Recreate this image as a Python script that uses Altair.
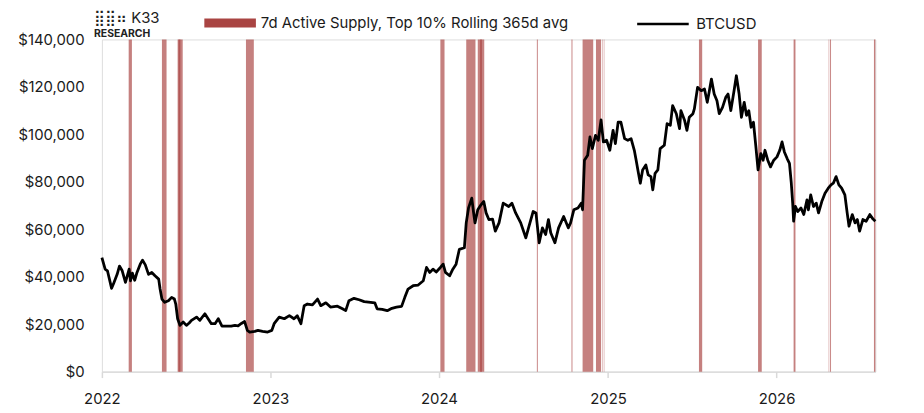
import altair as alt
import pandas as pd

# ---------------- data ----------------
price_dates = [
    "2022-01-01", "2022-01-08", "2022-01-13", "2022-01-22", "2022-01-27", "2022-02-03", "2022-02-08",
    "2022-02-14", "2022-02-21", "2022-03-01", "2022-03-04", "2022-03-08", "2022-03-13", "2022-03-18",
    "2022-03-25", "2022-03-30", "2022-04-05", "2022-04-12", "2022-04-19", "2022-04-26", "2022-05-04",
    "2022-05-07", "2022-05-11", "2022-05-17", "2022-05-25", "2022-06-01", "2022-06-07", "2022-06-10",
    "2022-06-14", "2022-06-19", "2022-06-26", "2022-07-03", "2022-07-09", "2022-07-14", "2022-07-25",
    "2022-08-01", "2022-08-12", "2022-08-19", "2022-08-26", "2022-09-03", "2022-09-10", "2022-09-18",
    "2022-09-27", "2022-10-08", "2022-10-16", "2022-10-23", "2022-10-30", "2022-11-06", "2022-11-12",
    "2022-11-17", "2022-11-28", "2022-12-05", "2022-12-15", "2022-12-26",
    "2023-01-04", "2023-01-09", "2023-01-20", "2023-01-31", "2023-02-11", "2023-02-21", "2023-02-28",
    "2023-03-08", "2023-03-15", "2023-03-22", "2023-04-02", "2023-04-13", "2023-04-20", "2023-05-01",
    "2023-05-11", "2023-05-26", "2023-06-06", "2023-06-13", "2023-06-20", "2023-07-01", "2023-07-12",
    "2023-07-23", "2023-08-06", "2023-08-15", "2023-08-20", "2023-08-31", "2023-09-11", "2023-09-21",
    "2023-10-01", "2023-10-12", "2023-10-19", "2023-10-26", "2023-11-06", "2023-11-17", "2023-11-28",
    "2023-12-05", "2023-12-12", "2023-12-19", "2023-12-26",
    "2024-01-04", "2024-01-10", "2024-01-15", "2024-01-24", "2024-01-31", "2024-02-07", "2024-02-14",
    "2024-02-25", "2024-02-29", "2024-03-05", "2024-03-12", "2024-03-16", "2024-03-19", "2024-03-25",
    "2024-04-01", "2024-04-07", "2024-04-12", "2024-04-18", "2024-04-26", "2024-05-02", "2024-05-10",
    "2024-05-19", "2024-05-31", "2024-06-07", "2024-06-15", "2024-06-26", "2024-07-07", "2024-07-14",
    "2024-07-23", "2024-07-29", "2024-08-05", "2024-08-12", "2024-08-19", "2024-08-25", "2024-08-30",
    "2024-09-08", "2024-09-16", "2024-09-27", "2024-10-07", "2024-10-12", "2024-10-19", "2024-10-28",
    "2024-11-04", "2024-11-07", "2024-11-11", "2024-11-18", "2024-11-23", "2024-11-28", "2024-12-05",
    "2024-12-11", "2024-12-17", "2024-12-22", "2024-12-29",
    "2025-01-05", "2025-01-12", "2025-01-17", "2025-01-23", "2025-01-29", "2025-02-06", "2025-02-13",
    "2025-02-20", "2025-02-27", "2025-03-03", "2025-03-08", "2025-03-12", "2025-03-17", "2025-03-24",
    "2025-03-29", "2025-04-04", "2025-04-08", "2025-04-13", "2025-04-19", "2025-04-24", "2025-05-03",
    "2025-05-09", "2025-05-16", "2025-05-21", "2025-05-29", "2025-06-05", "2025-06-08", "2025-06-16",
    "2025-06-21", "2025-06-26", "2025-07-04", "2025-07-07", "2025-07-14", "2025-07-22", "2025-07-29",
    "2025-08-04", "2025-08-08", "2025-08-13", "2025-08-19", "2025-08-25", "2025-08-30", "2025-09-06",
    "2025-09-13", "2025-09-18", "2025-09-24", "2025-10-01", "2025-10-06", "2025-10-12", "2025-10-17",
    "2025-10-23", "2025-10-28", "2025-11-02", "2025-11-07", "2025-11-12", "2025-11-17", "2025-11-22",
    "2025-11-28", "2025-12-03", "2025-12-07", "2025-12-13", "2025-12-19", "2025-12-26",
    "2026-01-02", "2026-01-08", "2026-01-13", "2026-01-18", "2026-01-24", "2026-01-29", "2026-02-02",
    "2026-02-05", "2026-02-07", "2026-02-11", "2026-02-16", "2026-02-23", "2026-03-01", "2026-03-08",
    "2026-03-11", "2026-03-16", "2026-03-22", "2026-03-28", "2026-04-02", "2026-04-09", "2026-04-16",
    "2026-04-23", "2026-04-29", "2026-05-04", "2026-05-10", "2026-05-16", "2026-05-22", "2026-05-29",
    "2026-06-03", "2026-06-07", "2026-06-14", "2026-06-20", "2026-06-25", "2026-06-30", "2026-07-07",
    "2026-07-14", "2026-07-22", "2026-07-29", "2026-08-03",
]

price_k = [
    48.1, 43.2, 42.5, 35.1, 37.5, 41.0, 44.5,
    42.5, 37.6, 43.2, 38.3, 41.5, 38.5, 41.8,
    45.3, 47.0, 45.0, 41.0, 41.8, 40.4, 39.0,
    34.8, 30.6, 29.2, 29.9, 31.3, 30.6, 28.5,
    22.3, 19.5, 20.9, 19.5, 20.5, 21.6, 23.0,
    21.6, 24.4, 22.3, 20.2, 20.2, 22.3, 19.2,
    19.2, 19.2, 19.5, 19.3, 20.3, 21.1, 17.4,
    16.7, 17.0, 17.4, 17.0, 16.7,
    17.4, 20.2, 23.0, 22.3, 23.6, 22.3, 23.6,
    20.2, 27.8, 28.5, 28.1, 30.6, 27.8, 29.0,
    27.2, 27.6, 26.5, 25.7, 29.9, 30.9, 30.3,
    29.5, 29.2, 29.0, 26.5, 26.2, 25.7, 26.7,
    27.2, 27.5, 31.3, 34.8, 36.2, 36.5, 38.3,
    43.9, 41.8, 43.2, 42.0,
    43.9, 45.3, 41.8, 40.4, 43.2, 45.3, 51.5,
    52.2, 62.7, 69.0, 73.1, 66.9, 62.7, 68.2,
    70.3, 71.7, 66.9, 64.1, 64.3, 59.2, 62.7,
    71.0, 69.6, 71.0, 66.9, 62.7, 56.4, 61.3,
    67.5, 66.9, 54.3, 60.6, 57.8, 64.1, 58.5,
    54.3, 60.6, 65.4, 60.6, 62.7, 68.2, 69.0,
    71.0, 68.2, 89.1, 91.2, 98.9, 94.0, 99.6,
    97.5, 106.1, 96.8, 97.5,
    93.3, 101.7, 96.1, 105.1, 105.1, 98.2, 97.5,
    98.2, 93.3, 89.1, 83.6, 79.4, 85.0, 87.1,
    82.9, 82.2, 76.6, 83.6, 85.0, 94.0, 95.4,
    104.5, 103.8, 112.1, 108.7, 102.4, 110.0, 105.8,
    101.7, 107.2, 108.7, 110.7, 119.8, 118.4, 119.1,
    113.5, 117.7, 123.3, 117.0, 114.2, 108.7, 111.4,
    115.6, 117.0, 110.0, 118.4, 124.7, 117.0, 107.2,
    113.5, 108.0, 110.0, 103.0, 105.1, 95.4, 85.0,
    91.9, 89.1, 93.3, 89.1, 86.3, 89.1,
    90.5, 93.3, 96.8, 92.6, 89.8, 87.8, 79.4,
    71.0, 63.4, 69.6, 67.5, 69.0, 66.2, 72.4,
    68.2, 74.5, 69.6, 71.0, 66.9, 71.7, 75.2,
    77.3, 78.7, 79.4, 82.2, 78.7, 77.3, 74.5,
    66.9, 61.3, 66.2, 62.7, 64.1, 59.2, 64.1,
    63.4, 66.2, 64.3, 63.4,
]

band_starts = [
    "2022-02-28", "2022-05-11", "2022-06-14", "2022-06-16", "2022-11-09",
    "2024-01-04", "2024-02-29", "2024-03-25", "2024-03-30", "2024-07-31",
    "2024-10-14", "2024-11-07", "2024-12-06", "2024-12-19", "2024-12-23",
    "2025-07-17", "2025-11-22", "2026-02-07", "2026-04-24", "2026-04-27",
    "2026-07-31",
]
band_ends = [
    "2022-03-07", "2022-05-21", "2022-06-20", "2022-06-25", "2022-11-26",
    "2024-01-13", "2024-03-20", "2024-04-03", "2024-04-08", "2024-08-02",
    "2024-10-16", "2024-11-30", "2024-12-17", "2024-12-20", "2024-12-24",
    "2025-07-24", "2025-11-30", "2026-02-11", "2026-04-25", "2026-04-29",
    "2026-08-03",
]

band_label = "7d Active Supply, Top 10% Rolling 365d avg"
line_label = "BTCUSD"
year_ticks = [2022, 2023, 2024, 2025, 2026]
y_ticks = [0, 20000, 40000, 60000, 80000, 100000, 120000, 140000]

# ---------------- tables ----------------
prices = pd.DataFrame({"date": price_dates, "price": [v * 1000 for v in price_k], "series": line_label})
bands = pd.DataFrame({"start": band_starts, "end": band_ends, "series": band_label})

FONT = "Inter"
TXT = "#1a1a1a"
AXIS_GREY = "#d9d9d9"

x_scale = alt.Scale(
    type="utc",
    domain=[alt.DateTime(year=2022, month=1, date=1, utc=True),
            alt.DateTime(year=2026, month=8, date=3, utc=True)],
)
x_axis = alt.Axis(
    title=None,
    values=[alt.DateTime(year=y, month=1, date=1, utc=True) for y in year_ticks],
    format="%Y",
    grid=False,
    domainColor=AXIS_GREY,
    domainWidth=1.5,
    tickColor=AXIS_GREY,
    tickWidth=1.5,
    tickSize=6,
    labelPadding=14,
    labelFlush=False,
    labelFontSize=15,
    labelColor=TXT,
    labelFont=FONT,
)

band_layer = alt.Chart(bands).mark_rect(opacity=0.68).encode(
    x=alt.X("start:T", scale=x_scale, axis=x_axis),
    x2="end:T",
    color=alt.Color(
        "series:N",
        scale=alt.Scale(domain=[band_label], range=["#a94442"]),
        legend=alt.Legend(
            orient="none",
            legendX=103.3,
            legendY=-42.5,
            title=None,
            padding=0,
            symbolType="M-1,-0.175H1V0.175H-1Z",
            symbolSize=2704,
            symbolOpacity=1,
            symbolStrokeWidth=0,
            labelFontSize=15,
            labelFont=FONT,
            labelColor=TXT,
            labelOffset=5,
            labelLimit=0,
        ),
    ),
)

line_layer = alt.Chart(prices).mark_line(strokeWidth=2.8, strokeJoin="round").encode(
    x=alt.X("date:T", scale=x_scale, axis=x_axis),
    y=alt.Y(
        "price:Q",
        scale=alt.Scale(domain=[0, 140000], nice=False),
        axis=alt.Axis(
            title=None,
            values=y_ticks,
            format="$,.0f",
            grid=False,
            domain=False,
            ticks=False,
            labelPadding=18,
            labelFontSize=15,
            labelColor=TXT,
            labelFont=FONT,
        ),
    ),
    stroke=alt.Stroke(
        "series:N",
        scale=alt.Scale(domain=[line_label], range=["#000000"]),
        legend=alt.Legend(
            orient="none",
            legendX=538.3,
            legendY=-43,
            title=None,
            padding=0,
            symbolType="stroke",
            symbolSize=2704,
            symbolStrokeWidth=2.6,
            labelFontSize=15,
            labelFont=FONT,
            labelColor=TXT,
            labelOffset=6,
            labelLimit=0,
        ),
    ),
)

chart = (
    alt.layer(band_layer, line_layer)
    .resolve_scale(color="independent")
    .properties(
        width=780,
        height=335,
        padding={"left": 94.7, "top": 30, "right": 41, "bottom": 40},
        autosize=alt.AutoSizeParams(type="none"),
        title=alt.TitleParams(
            text="⣿⣿⠶ K33",
            subtitle="RESEARCH",
            anchor="start",
            frame="group",
            dx=-8,
            dy=51,
            offset=8,
            font=FONT,
            fontSize=15,
            fontWeight="normal",
            color="#222222",
            subtitleFont=FONT,
            subtitleFontSize=10.5,
            subtitleFontWeight="bold",
            subtitleColor="#222222",
            subtitlePadding=3,
        ),
    )
    .configure_view(stroke=None)
    .configure(font=FONT)
)

chart.save("out.html", embed_options={"renderer": "svg", "actions": False})
